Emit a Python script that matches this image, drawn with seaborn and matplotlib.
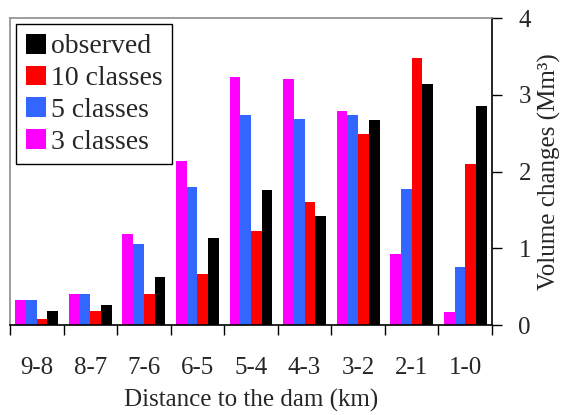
import matplotlib
matplotlib.use("Agg")
import matplotlib.pyplot as plt
import seaborn as sns
import pandas as pd
import numpy as np

# Reach of the river, upstream to downstream (km from the dam)
distances = ["9-8", "8-7", "7-6", "6-5", "5-4", "4-3", "3-2", "2-1", "1-0"]

# Volume changes (Mm³) per reach
three_classes = [0.33, 0.40, 1.18, 2.14, 3.23, 3.20, 2.79, 0.92, 0.17]
five_classes = [0.33, 0.40, 1.05, 1.80, 2.73, 2.69, 2.73, 1.77, 0.76]
ten_classes = [0.08, 0.18, 0.41, 0.67, 1.22, 1.60, 2.49, 3.48, 2.10]
observed = [0.18, 0.26, 0.62, 1.14, 1.76, 1.42, 2.67, 3.14, 2.85]

series_names = ["3 classes", "5 classes", "10 classes", "observed"]
series_values = [three_classes, five_classes, ten_classes, observed]
colors = {"3 classes": "#FF00FF", "5 classes": "#3366FF",
          "10 classes": "#FF0000", "observed": "#000000"}

y_ticks = [0, 1, 2, 3, 4]

df = pd.DataFrame(
    [(d, name, v) for name, vals in zip(series_names, series_values)
     for d, v in zip(distances, vals)],
    columns=["distance", "series", "volume"],
)

sns.set_style("white")
plt.rcParams["font.family"] = ["Liberation Serif", "DejaVu Serif"]
plt.rcParams["font.size"] = 18

fig = plt.figure(figsize=(5.64, 4.15), dpi=100)
ax = fig.add_axes([10 / 564, 1 - 325 / 415, 482 / 564, 307 / 415])

sns.barplot(data=df, x="distance", y="volume", hue="series",
            order=distances, hue_order=series_names, palette=colors,
            width=0.8, saturation=1, linewidth=0, ax=ax)

ax.set_xlim(-0.5, len(distances) - 0.5)
ax.set_ylim(0, 4)

# Value axis on the right
ax.yaxis.tick_right()
ax.yaxis.set_label_position("right")
ax.set_yticks(y_ticks)
ax.set_yticklabels([str(t) for t in y_ticks], fontsize=18)
ax.tick_params(axis="y", direction="out", length=7, width=1, color="black",
               pad=12, right=True, left=False)
ax.set_ylabel("Volume changes (Mm³)", fontsize=18, labelpad=5)

# Category labels in the middle, tick marks between the reaches
ax.set_xticks(np.arange(len(distances)))
ax.set_xticklabels(distances, fontsize=18)
ax.set_xticks(np.arange(len(distances) + 1) - 0.5, minor=True)
ax.tick_params(axis="x", which="major", length=0, pad=23)
ax.tick_params(axis="x", which="minor", direction="out", length=7,
               width=1, color="black", bottom=True)
ax.set_xlabel("Distance to the dam (km)", fontsize=18, labelpad=7)

for side in ["top", "left"]:
    ax.spines[side].set_color("#8c8c8c")
    ax.spines[side].set_linewidth(1.2)
for side in ["bottom", "right"]:
    ax.spines[side].set_color("black")
    ax.spines[side].set_linewidth(1.2)

handles, labels = ax.get_legend_handles_labels()
leg = ax.legend(handles[::-1], labels[::-1], loc="upper left",
                bbox_to_anchor=(0.012, 0.98), borderaxespad=0,
                fancybox=False, edgecolor="black", framealpha=1,
                handlelength=0.72, handleheight=0.72, handletextpad=0.2,
                labelspacing=0.22, borderpad=0.35, fontsize=20)
leg.get_frame().set_linewidth(1.0)

fig.savefig("out.png", dpi=100)
